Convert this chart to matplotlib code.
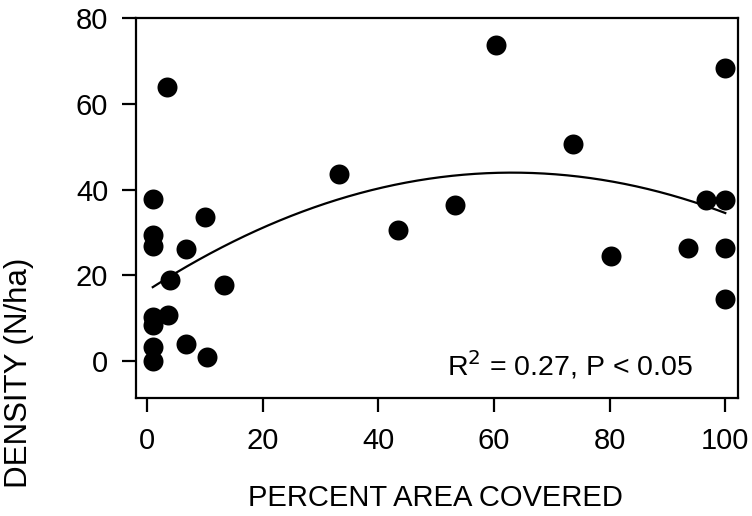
import numpy as np
import matplotlib
matplotlib.use("Agg")
import matplotlib.pyplot as plt

plt.rcParams['font.family'] = ['Liberation Sans', 'DejaVu Sans']

# Data
percent_area = [1.0, 1.0, 1.0, 1.0, 1.0, 1.0, 1.0, 3.5, 3.7, 3.9, 6.7, 6.8,
                10.1, 10.3, 13.3, 33.2, 43.4, 53.3, 60.3, 73.6, 80.3, 93.5,
                96.7, 100.0, 100.0, 100.0, 100.0]
density = [37.9, 29.4, 26.9, 10.3, 8.4, 3.3, 0.0, 64.0, 10.7, 18.9, 26.1, 3.9,
           33.7, 1.0, 17.8, 43.6, 30.6, 36.5, 73.6, 50.6, 24.5, 26.3,
           37.5, 68.4, 37.5, 26.3, 14.5]

x_ticks = [0, 20, 40, 60, 80, 100]
y_ticks = [0, 20, 40, 60, 80]
annotation = r"R$^2$ = 0.27, P < 0.05"

W, H = 752, 516
fig = plt.figure(figsize=(W / 100, H / 100), dpi=100)
ax = fig.add_axes([136 / W, 1 - 398 / H, (738 - 136) / W, (398 - 18) / H])

ax.scatter(percent_area, density, s=207, color='black', zorder=3, linewidths=0)

# quadratic fit
coef = np.polyfit(percent_area, density, 2)
xs = np.linspace(min(percent_area), max(percent_area), 200)
ax.plot(xs, np.polyval(coef, xs), color='black', lw=1.6, zorder=2)

ax.set_xlim(-1.9, 102.2)
ax.set_ylim(-8.6, 80)
ax.set_xticks(x_ticks)
ax.set_yticks(y_ticks)
for s in ax.spines.values():
    s.set_linewidth(1.6)
    s.set_color('black')
ax.tick_params(axis='both', direction='out', length=10, width=1.6,
               labelsize=21, colors='black')
ax.tick_params(axis='x', pad=11)
ax.tick_params(axis='y', pad=10)

ax.text(0.925, 0.058, annotation, transform=ax.transAxes, ha='right',
        va='baseline', fontsize=20.5)

fig.text(0.5 * (247 + 624) / W, 1 - 498 / H, "PERCENT AREA COVERED",
         ha='center', va='center', fontsize=21)
fig.text(19 / W, 1 - 258 / H, "DENSITY (N/ha)", rotation=90,
         ha='center', va='top', fontsize=22.5)

fig.savefig("out.png", dpi=100)
